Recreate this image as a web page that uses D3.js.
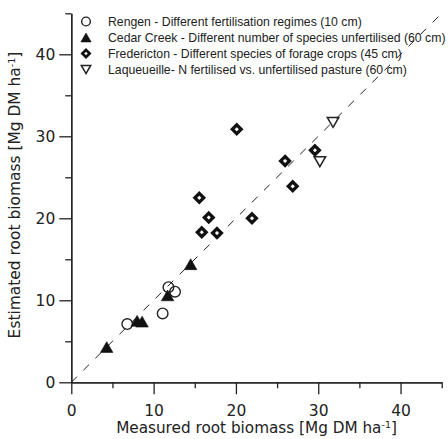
<!DOCTYPE html>
<html><head><meta charset="utf-8">
<script src="https://cdn.jsdelivr.net/npm/d3@7"></script>
<style>html,body{margin:0;padding:0;background:#fff;}svg{display:block;}</style>
</head><body>
<svg id="c" width="448" height="439"></svg>
<script>
// ---- data ----
const rengenX = [6.8, 11.1, 11.8, 12.6];
const rengenY = [7.1, 8.4, 11.6, 11.05];
const cedarX = [4.3, 8.0, 8.6, 11.7, 14.5];
const cedarY = [4.3, 7.5, 7.4, 10.6, 14.4];
const fredX = [15.55, 15.85, 16.7, 17.7, 20.1, 21.95, 25.97, 26.9, 29.6];
const fredY = [22.5, 18.3, 20.1, 18.2, 30.85, 20.0, 27.0, 23.9, 28.3];
const laqX = [30.2, 31.8];
const laqY = [26.9, 31.7];
const majorTicks = [0, 10, 20, 30, 40];
const minorTicks = [5, 15, 25, 35, 45];
const legendLabels = [
  "Rengen - Different fertilisation regimes (10 cm)",
  "Cedar Creek - Different number of species unfertilised (60 cm)",
  "Fredericton - Different species of forage crops (45 cm)",
  "Laqueueille- N fertilised vs. unfertilised pasture (60 cm)"
];
const xTitle = "Measured root biomass [Mg DM ha";
const yTitle = "Estimated root biomass [Mg DM ha";

const FONT = "DejaVu Sans";
const LFONT = "Liberation Sans";
const svg = d3.select("#c");
const x = d3.scaleLinear().domain([0, 45]).range([71.3, 441.7]);
const y = d3.scaleLinear().domain([0, 45]).range([382.3, 13.3]);
const ink = "#222";

// diagonal 1:1 line
svg.append("line")
  .attr("x1", x(0)).attr("y1", y(0)).attr("x2", x(45)).attr("y2", y(45))
  .attr("stroke", ink).attr("stroke-width", 1).attr("stroke-dasharray", "8,9");

// axes
function styleAxis(g) {
  g.selectAll("path,line").attr("stroke", ink).attr("stroke-width", 1.3);
  g.selectAll("text").attr("fill", ink).attr("font-family", FONT).attr("font-size", 15.5);
}
const xg = svg.append("g").attr("transform", `translate(0,${y(0)})`);
xg.call(d3.axisBottom(x).tickValues(majorTicks).tickSize(12).tickSizeOuter(0).tickPadding(11).tickFormat(d3.format("d")));
styleAxis(xg);
const xm = svg.append("g").attr("transform", `translate(0,${y(0)})`);
xm.call(d3.axisBottom(x).tickValues(minorTicks).tickSize(6).tickSizeOuter(0).tickFormat(""));
styleAxis(xm);
const yg = svg.append("g").attr("transform", `translate(${x(0)},0)`);
yg.call(d3.axisLeft(y).tickValues(majorTicks).tickSize(12).tickSizeOuter(0).tickPadding(4).tickFormat(d3.format("d")));
styleAxis(yg);
const ym = svg.append("g").attr("transform", `translate(${x(0)},0)`);
ym.call(d3.axisLeft(y).tickValues(minorTicks).tickSize(6).tickSizeOuter(0).tickFormat(""));
styleAxis(ym);

// symbols
function triUp(s) { const h = s * Math.sqrt(3) / 2; return `M0,${-h/2}L${s/2},${h/2}L${-s/2},${h/2}Z`; }
function triDown(s) { const h = s * Math.sqrt(3) / 2; return `M0,${h/2}L${s/2},${-h/2}L${-s/2},${-h/2}Z`; }
function diamond(r) { return `M0,${-r}L${r},0L0,${r}L${-r},0Z`; }

function drawSet(xs, ys, kind, big) {
  const pts = xs.map((v, i) => [v, ys[i]]);
  const g = svg.append("g");
  pts.forEach(p => drawSym(g, x(p[0]), y(p[1]), kind, big));
}
function drawSym(g, cx, cy, kind, big) {
  const k = big ? 1 : 0.82;
  if (kind === "circle") {
    g.append("circle").attr("cx", cx).attr("cy", cy).attr("r", 5.3 * k)
      .attr("fill", "none").attr("stroke", ink).attr("stroke-width", 1.4);
  } else if (kind === "up") {
    g.append("path").attr("d", triUp(12.5 * k)).attr("transform", `translate(${cx},${cy})`)
      .attr("fill", "#111").attr("stroke", "#111").attr("stroke-width", 0.6);
  } else if (kind === "diamond") {
    g.append("path").attr("d", diamond(4.4 * k)).attr("transform", `translate(${cx},${cy})`)
      .attr("fill", "#fff").attr("stroke", "#111").attr("stroke-width", 3.3 * k).attr("stroke-linejoin", "miter");
  } else {
    g.append("path").attr("d", triDown(11.5 * k)).attr("transform", `translate(${cx},${cy})`)
      .attr("fill", "none").attr("stroke", ink).attr("stroke-width", 1.5);
  }
}
drawSet(rengenX, rengenY, "circle", true);
drawSet(cedarX, cedarY, "up", true);
drawSet(fredX, fredY, "diamond", true);
drawSet(laqX, laqY, "down", true);

// legend
const kinds = ["circle", "up", "diamond", "down"];
const lg = svg.append("g");
legendLabels.forEach((t, i) => {
  const ry = 21.5 + i * 16;
  drawSym(lg, 86, ry, kinds[i], false);
  lg.append("text").attr("x", 108).attr("y", ry + 4.3).text(t)
    .attr("font-family", LFONT).attr("font-size", 11).attr("fill", ink);
});
// fit legend font to width of first line
{
  const t0 = lg.selectAll("text").nodes()[0];
  const w = t0.getComputedTextLength();
  lg.selectAll("text").attr("font-size", 11 * 254 / w);
}

// titles
function title(txt, target) {
  const t = svg.append("text").attr("font-family", FONT).attr("fill", ink).attr("font-size", 16);
  t.append("tspan").text(txt);
  t.append("tspan").attr("font-size", "0.62em").attr("dy", "-0.55em").text("-1");
  t.append("tspan").attr("dy", "0.34em").text("]");
  const w = t.node().getComputedTextLength();
  t.attr("font-size", 16 * target / w);
  return t;
}
title(xTitle, 281).attr("text-anchor", "middle").attr("x", (x(0) + x(45)) / 2).attr("y", 433);
title(yTitle, 287).attr("text-anchor", "middle")
  .attr("transform", `translate(20,${195}) rotate(-90)`);
</script>
</body></html>
